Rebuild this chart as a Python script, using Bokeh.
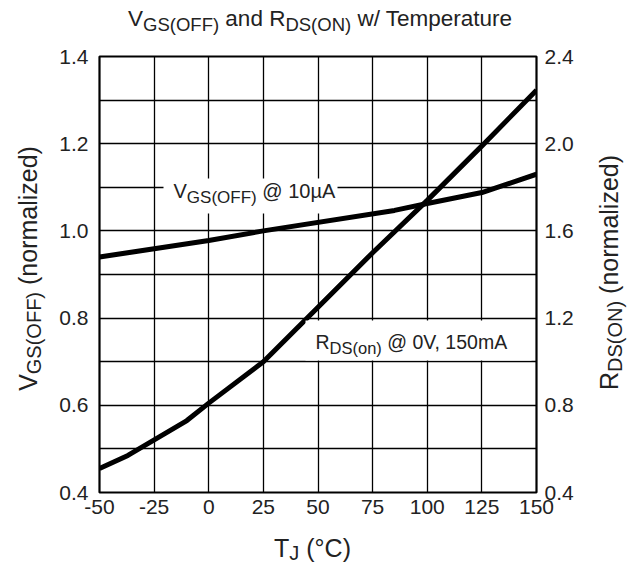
import math
from bokeh.plotting import figure
from bokeh.models import (Range1d, LinearAxis, FixedTicker, PrintfTickFormatter,
                          BoxAnnotation)
from bokeh.core.properties import value
from bokeh.embed import file_html
from bokeh.resources import INLINE

# ---- data ----
temp_vgs = [-50, 0, 25, 85, 100, 125, 150]
vgs_norm = [0.94, 0.978, 1.0, 1.047, 1.063, 1.088, 1.13]

temp_rds = [-50, -37, -10, 0, 25, 50, 75, 100, 125, 150]
rds_norm = [0.51, 0.57, 0.73, 0.81, 1.0, 1.25, 1.50, 1.74, 1.99, 2.245]

x_ticks = [-50, -25, 0, 25, 50, 75, 100, 125, 150]
vgs_ticks = [0.4, 0.6, 0.8, 1.0, 1.2, 1.4]
vgs_minor = [0.5, 0.7, 0.9, 1.1, 1.3]
rds_ticks = [0.4, 0.8, 1.2, 1.6, 2.0, 2.4]

# ---- layout ----
FONT = "Liberation Sans"
TXT = "#222222"
W, H = 632, 565
BL, BR, BT, BB = 99, 96, 56, 73
FW = W - BL - BR
FH = H - BT - BB
X0, X1 = -50, 150
Y0, Y1 = 0.4, 1.4

p = figure(width=W, height=H, output_backend="svg", toolbar_location=None,
           x_range=Range1d(X0, X1), y_range=Range1d(Y0, Y1),
           min_border_left=BL, min_border_right=BR, min_border_top=BT,
           min_border_bottom=BB, background_fill_color="white",
           border_fill_color="white")
p.extra_y_ranges = {"r": Range1d(0.4, 2.4)}

p.outline_line_color = "black"
p.outline_line_width = 2.2

def style_axis(ax, standoff):
    ax.axis_line_color = None
    ax.major_tick_in = ax.major_tick_out = 0
    ax.minor_tick_in = ax.minor_tick_out = 0
    ax.major_label_text_font = FONT
    ax.major_label_text_font_size = "21px"
    ax.major_label_text_color = TXT
    ax.major_label_standoff = standoff

p.xaxis.ticker = FixedTicker(ticks=x_ticks)
p.xaxis.formatter = PrintfTickFormatter(format="%d")
style_axis(p.xaxis[0], 7)
p.yaxis.ticker = FixedTicker(ticks=vgs_ticks, minor_ticks=vgs_minor)
p.yaxis.formatter = PrintfTickFormatter(format="%.1f")
style_axis(p.yaxis[0], 11)

rax = LinearAxis(y_range_name="r", ticker=FixedTicker(ticks=rds_ticks),
                 formatter=PrintfTickFormatter(format="%.1f"))
style_axis(rax, 8)
p.add_layout(rax, "right")

p.xgrid.grid_line_color = "black"
p.xgrid.grid_line_width = 1.3
p.ygrid.grid_line_color = "black"
p.ygrid.grid_line_width = 1.3
p.ygrid.minor_grid_line_color = "black"
p.ygrid.minor_grid_line_width = 1.3

# ---- helpers for positioning text in pixels (page px, origin top-left) ----
def dx(px):
    return X0 + (px - BL) * (X1 - X0) / FW

def dy(py):
    return Y1 - (py - BT) * (Y1 - Y0) / FH

CW = {' ': 278, '(': 333, ')': 333, '/': 278, '@': 1015, ',': 278, '.': 278,
      '°': 400, 'µ': 576, 'A': 667, 'C': 722, 'D': 722, 'F': 611, 'G': 778,
      'J': 500, 'N': 722, 'O': 778, 'R': 722, 'S': 667, 'T': 611, 'V': 667,
      'a': 556, 'd': 556, 'e': 556, 'i': 222, 'l': 222, 'm': 833, 'n': 556,
      'o': 556, 'p': 556, 'r': 333, 't': 278, 'u': 556, 'w': 722, 'z': 500}

def tw(s, size):
    return sum(CW.get(c, 556) for c in s) * size / 1000.0

K = 0.32  # empirical baseline correction (fraction of font size)

def rich(parts, x, y, angle=0.0, center=False):
    """x, y: baseline start (or centre) in page pixels."""
    total = sum(tw(t, sz) for t, sz, _ in parts)
    pos = -total / 2 if center else 0
    for t, sz, shift in parts:
        lead = len(t) - len(t.lstrip(" "))
        pos += tw(" " * lead, sz)
        body = t.strip(" ")
        corr = K * sz
        if angle == 0:
            lx, ly = x + pos, y + shift - corr
        else:
            lx, ly = x + shift - corr, y - pos
        p.text(x=[dx(lx)], y=[dy(ly)], text=[body], angle=angle,
               text_font=value(FONT), text_font_size=value(f"{sz}px"),
               text_color=TXT, text_baseline="alphabetic", text_align="left",
               level="overlay")
        pos += tw(t.lstrip(" "), sz)

# white boxes behind in-plot annotations
p.add_layout(BoxAnnotation(left=dx(163), right=dx(337), top=dy(178), bottom=dy(213),
                           fill_color="white", fill_alpha=1, line_color=None,
                           level="glyph"))
p.add_layout(BoxAnnotation(left=dx(305), right=dx(531), top=dy(320), bottom=dy(360),
                           fill_color="white", fill_alpha=1, line_color=None,
                           level="glyph"))

# curves
p.line(temp_vgs, vgs_norm, line_color="black", line_width=5)
p.line(temp_rds, rds_norm, line_color="black", line_width=5, y_range_name="r")

# texts
SH = 5
rich([("V", 22.5, 0), ("GS(OFF)", 18.5, SH), (" and ", 22.5, 0), ("R", 22.5, 0),
      ("DS(ON)", 18.5, SH), (" w/ Temperature", 22.5, 0)], 321, 25, center=True)

rich([("V", 20, 0), ("GS(OFF)", 17, SH), (" @ 10µA", 20, 0)], 173, 197)
rich([("R", 19.5, 0), ("DS(on)", 16.5, SH), (" @ 0V, 150mA", 19.5, 0)], 315, 348)

AX, AXS = 25, 20
rich([("T", AX, 0), ("J", AXS, 4), (" (°C)", AX, 0)], 312, 555, center=True)

rich([("V", AX, 0), ("GS(OFF)", AXS, SH), (" (normalized)", AX, 0)], 35, 268,
     angle=math.pi / 2, center=True)
rich([("R", AX, 0), ("DS(ON)", AXS, SH), (" (normalized)", AX, 0)], 616, 272,
     angle=math.pi / 2, center=True)

open("out.html", "w").write(file_html(p, INLINE))
